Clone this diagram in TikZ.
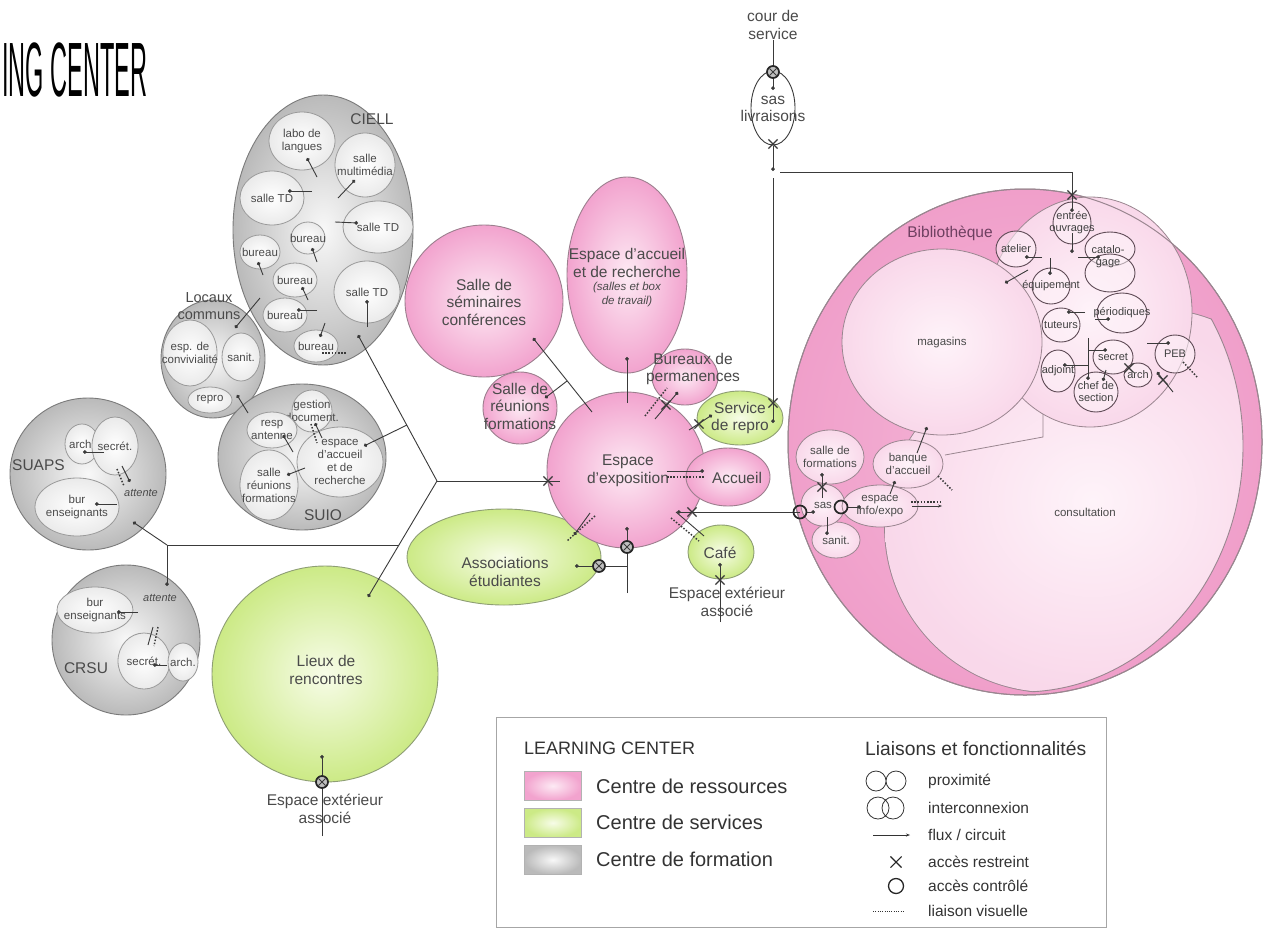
\documentclass[tikz,border=0pt]{standalone}
\usepackage{fontspec}
\setmainfont{Liberation Sans}
\usetikzlibrary{shapes.geometric,shapes.misc,arrows.meta}
\definecolor{pinkout}{HTML}{F2A3CE}
\definecolor{pinkin}{HTML}{FDEAF4}
\definecolor{pinkline}{HTML}{9C7F8E}
\definecolor{bibout}{HTML}{F09FCA}
\definecolor{bibin}{HTML}{FEF3F9}
\definecolor{bibmid}{HTML}{F9D8EA}
\definecolor{bibline}{HTML}{9A8690}
\definecolor{offline}{HTML}{5E4A55}
\definecolor{greenout}{HTML}{CCEA86}
\definecolor{greenin}{HTML}{F7FCE8}
\definecolor{greenline}{HTML}{8E9E74}
\definecolor{grayout}{HTML}{BABABA}
\definecolor{grayin}{HTML}{F8F8F8}
\definecolor{grayline}{HTML}{7A7A7A}
\definecolor{subfill}{HTML}{EAEAEA}
\definecolor{subline}{HTML}{9A9A9A}
\definecolor{txt}{HTML}{4A4A4A}
\definecolor{lnk}{HTML}{3A3A3A}
\definecolor{bibtxt}{HTML}{6E3F60}
\tikzset{
  bub/.style={ellipse, inner sep=0pt, line width=0.9pt},
  pinkb/.style={bub, draw=pinkline, shading=radial, inner color=pinkin, outer color=pinkout},
  greenb/.style={bub, draw=greenline, shading=radial, inner color=greenin, outer color=greenout},
  grayb/.style={bub, draw=grayline, shading=radial, inner color=grayin, outer color=grayout},
  subb/.style={bub, draw=subline, line width=0.8pt, shading=radial, inner color=white, outer color=subfill},
  roomb/.style={bub, draw=bibline, line width=0.8pt, shading=radial, inner color=bibin, outer color=bibmid},
  offb/.style={bub, draw=offline, line width=0.9pt, fill=bibin, fill opacity=0.55},
  whiteb/.style={bub, draw=lnk, line width=0.9pt, fill=white},
  tbig/.style={font=\fontsize{15.5}{17.5}\selectfont, text=txt, align=center, inner sep=0pt},
  tmid/.style={font=\fontsize{11.5}{13}\selectfont, text=txt, align=center, inner sep=0pt},
  toff/.style={font=\fontsize{11}{12}\selectfont, text=black!75, align=center, inner sep=0pt},
  tit/.style={font=\fontsize{11}{12.5}\selectfont\itshape, text=txt, align=center, inner sep=0pt},
  tleg/.style={font=\fontsize{15.5}{17}\selectfont, text=black!80, anchor=west, inner sep=0pt},
  tlegb/.style={font=\fontsize{20}{22}\selectfont, text=black!80, anchor=west, inner sep=0pt},
  fluxl/.style={draw=lnk, line width=0.9pt, -{Circle[length=3.6pt]}},
  lnkl/.style={draw=lnk, line width=0.9pt},
  visl/.style={draw=lnk, line width=1.5pt, dash pattern=on 1.5pt off 1.7pt},
  xmk/.style={cross out, draw=lnk, line width=1.2pt, minimum size=8pt, inner sep=0pt},
  omk/.style={circle, draw=black!85, line width=1.7pt, minimum size=13pt, inner sep=0pt},
  oxmk/.style={circle, draw=black!85, line width=1.7pt, fill=black!25, minimum size=12pt, inner sep=0pt},
  swatch/.style={draw=gray!60, line width=0.6pt, minimum width=57, minimum height=29, anchor=north west, inner sep=0pt}
}
\newcommand\bub[7]{\node[#1,minimum width=#4,minimum height=#5] (#2) at #3 {};\node[#6] (#2t) at (#2) {#7};}
\newcommand\mkX[1]{\node[xmk] at #1 {};}
\newcommand\mkO[1]{\node[omk] at #1 {};}
\newcommand\mkOX[1]{\node[oxmk] at #1 {};\node[xmk, minimum size=6pt, line width=1pt] at #1 {};}
\begin{document}
\begin{tikzpicture}[x=1pt,y=-1pt]
\useasboundingbox (0,0) rectangle (1273,929);
\fill[white] (0,0) rectangle (1273,929);
% title
\node[anchor=base west, inner sep=0pt] (title) at (2,96) {\scalebox{0.305}[1]{\fontsize{77}{77}\selectfont ING CENTER}};

% ---------- SUAPS ----------
\node[grayb, minimum width=156, minimum height=152] (suaps) at (88,474) {};
\bub{subb}{suarch}{(82,444)}{34}{40}{tmid}{arch.}
\bub{subb}{suasec}{(115,446)}{46}{58}{tmid}{secrét.}
\bub{subb}{suabur}{(77,507)}{84}{58}{tmid}{bur\\enseignants}
\node[tbig, anchor=west] (suapst) at (12,465) {SUAPS};
\node[tit] (suaatt) at (141,493) {attente};
% ---------- CRSU ----------
\node[grayb, minimum width=148, minimum height=150] (crsu) at (126,640) {};
\bub{subb}{crbur}{(95,610)}{76}{46}{tmid}{bur\\enseignants}
\bub{subb}{crsec}{(144,661)}{52}{56}{tmid}{secrét.}
\bub{subb}{crarch}{(183,662)}{30}{38}{tmid}{arch.}
\node[tbig] (crsut) at (86,668) {CRSU};
\node[tit] (cratt) at (160,598) {attente};
% ---------- CIELL ----------
\node[grayb, minimum width=180, minimum height=270] (ciell) at (323,230) {};
\node[tbig] (ciellt) at (372,119) {CIELL};
\bub{subb}{labo}{(302,141)}{66}{58}{tmid}{labo de\\langues}
\bub{subb}{multi}{(365,165)}{60}{64}{tmid}{salle\\multimédia}
\bub{subb}{tdA}{(272,198)}{64}{54}{tmid}{salle TD}
\bub{subb}{tdB}{(378,227)}{70}{52}{tmid}{salle TD}
\bub{subb}{burA}{(308,238)}{34}{32}{tmid}{bureau}
\bub{subb}{burB}{(260,252)}{40}{34}{tmid}{bureau}
\bub{subb}{burC}{(295,280)}{44}{34}{tmid}{bureau}
\bub{subb}{burD}{(285,315)}{44}{34}{tmid}{bureau}
\bub{subb}{burE}{(316,346)}{44}{32}{tmid}{bureau}
\bub{subb}{tdC}{(367,292)}{66}{62}{tmid}{salle TD}
% ---------- Locaux communs ----------
\node[grayb, minimum width=104, minimum height=118] (loc) at (213,359) {};
\node[font=\fontsize{14.5}{16.5}\selectfont, text=txt, align=center, inner sep=0pt] (loct) at (209,306) {Locaux\\communs};
\bub{subb}{conv}{(190,353)}{54}{66}{tmid}{esp. de\\convivialité}
\bub{subb}{lsan}{(241,357)}{38}{48}{tmid}{sanit.}
\bub{subb}{lrep}{(210,400)}{44}{26}{tmid}{repro}
% ---------- SUIO ----------
\node[grayb, minimum width=168, minimum height=146] (suio) at (302,457) {};
\bub{subb}{sgest}{(312,411)}{40}{42}{tmid}{gestion\\document.}
\bub{subb}{sresp}{(272,430)}{50}{36}{tmid}{resp\\antenne}
\bub{subb}{ssal}{(269,485)}{58}{70}{tmid}{salle\\réunions\\formations}
\bub{subb}{sesp}{(340,462)}{86}{70}{tmid}{espace\\d’accueil\\et de\\recherche}
\node[tbig] (suiot) at (323,515) {SUIO};

% ---------- pink / green ----------
\node[pinkb, minimum width=158, minimum height=152] (sem) at (484,301) {};
\node[tbig] (semt) at (484,302) {Salle de\\séminaires\\conférences};
\node[pinkb, minimum width=120, minimum height=196] (eacc) at (627,275) {};
\node[tbig] (eacct) at (627,263) {Espace d’accueil\\et de recherche};
\node[tit, font=\fontsize{11.5}{14}\selectfont\itshape] (eacci) at (627,295) {(salles et box\\de travail)};
\node[pinkb, minimum width=74, minimum height=72] (reu) at (520,408) {};
\node[tbig] (reut) at (520,406) {Salle de\\réunions\\formations};
\node[pinkb, minimum width=66, minimum height=56] (bper) at (685,377) {};
\node[tbig] (bpert) at (693,369) {Bureaux de\\permanences};
\node[greenb, minimum width=86, minimum height=54] (srep) at (740,418) {};
\node[tbig] (srept) at (740,418) {Service\\de repro};
\node[greenb, minimum width=194, minimum height=96] (asso) at (504,557) {};
\node[tbig] (assot) at (505,572) {Associations\\étudiantes};
\node[pinkb, minimum width=158, minimum height=156] (expo) at (626,470) {};
\node[tbig] (expot) at (628,471) {Espace\\d’exposition};
\node[pinkb, minimum width=84, minimum height=58] (accu) at (728,477) {};
\node[tbig] (accut) at (737,478) {Accueil};
\node[greenb, minimum width=66, minimum height=54] (cafe) at (721,552) {};
\node[tbig] (cafet) at (720,553) {Café};
\node[greenb, minimum width=226, minimum height=216] (lieux) at (325,674) {};
\node[tbig] (lieuxt) at (326,670) {Lieux de\\rencontres};
\node[tbig] (ext1) at (727,602) {Espace extérieur\\associé};
\node[tbig] (ext2) at (325,809) {Espace extérieur\\associé};

% ---------- top ----------
\node[tbig] (cour) at (773,25) {cour de\\service};
\node[whiteb, minimum width=44, minimum height=74] (sasl) at (773,108) {};
\node[tbig] (saslt) at (773,109) {sas\\livraisons};

% ---------- Bibliotheque ----------
\node[bub, draw=bibline, line width=1pt, shading=radial, inner color=bibout!75!white, outer color=bibout, minimum width=474, minimum height=506] (bib) at (1025,442) {};
\begin{scope}
\clip (1022,446) ellipse [x radius=221, y radius=246];
\draw[bibline, line width=1.8pt] (1050,527) circle [radius=165] (1160,450) circle [radius=140];
\shade[inner color=bibin, outer color=bibmid] (1050,527) circle [radius=165] (1160,450) circle [radius=140];
\end{scope}
\begin{scope}
\clip (1050,527) circle [radius=166] (1160,450) circle [radius=141];
\draw[bibline, line width=0.9pt] (1022,446) ellipse [x radius=221, y radius=246];
\end{scope}
\draw[bibline, line width=0.8pt] (945,455) -- (1043,437) -- (1043,412);
\node[bub, draw=bibline, line width=0.8pt, shading=radial, inner color=bibin, outer color=bibmid, minimum width=204, minimum height=230] (offc) at (1090,312) {};
\node[roomb, minimum width=200, minimum height=186] (mag) at (942,342) {};
\node[tmid] (magt) at (942,343) {magasins};
\node[bub, draw=bibline, line width=1pt, minimum width=474, minimum height=506] (bibo) at (1025,442) {};
\node[tbig, text=bibtxt] (bibt) at (950,233) {Bibliothèque};
\node[tmid] (cons) at (1085,512) {consultation};
% offices
\bub{offb}{entr}{(1072,223)}{38}{42}{toff}{entrée\\ouvrages}
\bub{offb}{atel}{(1016,249)}{40}{36}{toff}{atelier}
\node[offb, minimum width=50, minimum height=34] (catA) at (1110,249) {};
\node[offb, minimum width=50, minimum height=38] (catB) at (1110,273) {};
\node[toff] (catt) at (1108,257) {catalo-\\gage};
\bub{offb}{equi}{(1051,286)}{38}{36}{toff}{équipement}
\bub{offb}{tut}{(1061,325)}{38}{34}{toff}{tuteurs}
\bub{offb}{peri}{(1122,313)}{50}{40}{toff}{périodiques}
\bub{offb}{secb}{(1113,357)}{40}{34}{toff}{secret}
\bub{offb}{adj}{(1058,371)}{34}{42}{toff}{adjoint}
\bub{offb}{chef}{(1096,392)}{44}{40}{toff}{chef de\\section}
\bub{offb}{barch}{(1138,375)}{28}{24}{toff}{arch}
\bub{offb}{peb}{(1175,354)}{40}{38}{toff}{PEB}
% left rooms
\bub{roomb}{sfor}{(830,457)}{68}{54}{tmid}{salle de\\formations}
\bub{roomb}{sanb}{(836,540)}{48}{36}{tmid}{sanit.}
\bub{roomb}{sasb}{(823,505)}{44}{42}{tmid}{sas}
\bub{roomb}{info}{(880,506)}{76}{42}{tmid}{espace\\info/expo}
\bub{roomb}{banq}{(908,464)}{70}{48}{tmid}{banque\\d’accueil}

% ---------- connectors ----------
\coordinate (hub) at (437,481);
\coordinate (hubS) at (399,545);
\coordinate (sj) at (167,545);
\coordinate (sb) at (407,425);
\draw[lnkl] (hubS) -- (sj);
\draw[fluxl] (sj) -- (133,522);
\draw[fluxl] (sj) -- (167,586);
\draw[fluxl] (hub) -- (358,335);
\draw[fluxl] (sb) -- (364,446);
\draw[fluxl] (hub) -- (368,597);
\draw[lnkl] (hub) -- (560,481);
\draw[fluxl] (260,298) -- (235,328);
\draw[fluxl] (248,413) -- (237,395);
% SUAPS / CRSU internal
\draw[fluxl] (104,452) -- (83,452);
\draw[fluxl] (117,504) -- (95,504);
\draw[fluxl] (122,466) -- (130,482);
\draw[visl] (117,469) -- (124,486);
\draw[fluxl] (138,612) -- (117,612);
\draw[fluxl] (167,665) -- (153,665);
\draw[lnkl] (153,627) -- (148,645);
\draw[visl] (158,627) -- (154,646);
% CIELL internal
\draw[fluxl] (317,177) -- (307,158);
\draw[fluxl] (312,191) -- (288,191);
\draw[fluxl] (338,198) -- (355,180);
\draw[fluxl] (335,222) -- (358,223);
\draw[fluxl] (317,262) -- (312,248);
\draw[fluxl] (263,275) -- (258,262);
\draw[fluxl] (308,300) -- (302,287);
\draw[fluxl] (317,310) -- (297,310);
\draw[fluxl] (325,323) -- (320,337);
\draw[visl] (322,353) -- (347,353);
\draw[fluxl] (367,327) -- (367,300);
% SUIO internal
\draw[fluxl] (293,452) -- (283,435);
\draw[fluxl] (305,468) -- (287,475);
\draw[fluxl] (322,438) -- (315,423);
\draw[visl] (311,424) -- (317,443);
% around Espace d'exposition
\draw[fluxl] (592,412) -- (533,338);
\draw[fluxl] (567,381) -- (545,398);
\draw[fluxl] (627,403) -- (627,357);
\draw[visl] (645,416) -- (667,388);
\draw[fluxl] (655,419) -- (678,392);
\draw[fluxl] (689,430) -- (712,415);
\draw[fluxl] (667,471) -- (704,471);
\draw[visl] (667,477) -- (704,477);
\draw[fluxl] (800,512) -- (677,512);
\draw[lnkl] (676,512) -- (704,536);
\draw[visl] (671,518) -- (699,541);
\draw[fluxl] (590,513) -- (574,535);
\draw[visl] (595,516) -- (567,541);
\draw[fluxl] (627,593) -- (627,527);
\draw[fluxl] (627,566) -- (575,566);
\draw[fluxl] (720,622) -- (720,563);
\draw[fluxl] (322,836) -- (322,755);
% top
\draw[lnkl] (cour.south) -- (773,72);
\draw[fluxl] (773,78) -- (773,90);
\draw[fluxl] (773,146) -- (773,171);
\draw[fluxl] (773,178) -- (773,423);
\draw[fluxl] (780,172) -| (1072,212);
% bib offices
\draw[fluxl] (1072,233) -- (1072,253);
\draw[fluxl] (1078,257) -- (1100,257);
\draw[fluxl] (1042,257) -- (1025,257);
\draw[fluxl] (1050,258) -- (1050,275);
\draw[fluxl] (1028,270) -- (1005,283);
\draw[fluxl] (1085,312) -- (1067,312);
\draw[fluxl] (1095,319) -- (1110,319);
\draw[lnkl] (1088,338) -- (1088,373);
\draw[fluxl] (1088,365) -- (1063,365);
\draw[fluxl] (1088,350) -- (1107,350);
\draw[fluxl] (1088,370) -- (1088,380);
\draw[fluxl] (1106,370) -- (1103,381);
\draw[fluxl] (1173,392) -- (1157,372);
\draw[fluxl] (1147,343) -- (1170,343);
\draw[visl] (1183,362) -- (1197,377);
% bib left
\draw[fluxl] (806,512) -- (815,512);
\draw[fluxl] (847,507) -- (861,507);
\draw[fluxl] (822,498) -- (822,473);
\draw[fluxl] (827,517) -- (827,535);
\draw[fluxl] (917,453) -- (927,427);
\draw[fluxl] (890,494) -- (895,481);
\draw[visl] (938,476) -- (952,490);
\draw[visl] (911,502) -- (942,502);
\draw[lnkl, -{Stealth[length=4pt]}] (912,506) -- (942,506);
% marks
\mkX{(548,481)}
\mkX{(666,405)}
\mkX{(699,424)}
\mkX{(773,403)}
\mkX{(692,512)}
\mkX{(720,580)}
\mkX{(773,144)}
\mkX{(1072,195)}
\mkX{(1129,368)}
\mkX{(1163,380)}
\mkX{(822,487)}
\mkOX{(627,547)}
\mkOX{(599,566)}
\mkOX{(322,782)}
\mkOX{(773,72)}
\mkO{(800,512)}
\mkO{(841,507)}

% ---------- legend ----------
\node[draw=gray!70, line width=1pt, minimum width=610, minimum height=210, anchor=north west, inner sep=0pt] (leg) at (496,717) {};
\node[tleg, font=\fontsize{18}{20}\selectfont] (legA) at (524,748) {LEARNING CENTER};
\node[swatch, shading=radial, inner color=pinkin, outer color=pinkout] (swp) at (524,771) {};
\node[swatch, shading=radial, inner color=greenin, outer color=greenout] (swg) at (524,808) {};
\node[swatch, shading=radial, inner color=grayin, outer color=grayout] (swy) at (524,845) {};
\node[tlegb] (legp) at (596,786) {Centre de ressources};
\node[tlegb] (legg) at (596,822) {Centre de services};
\node[tlegb] (legy) at (596,859) {Centre de formation};
\node[tleg, font=\fontsize{19.3}{21}\selectfont] (legB) at (865,748) {Liaisons et fonctionnalités};
\draw[black!80, line width=0.8pt] (876,781) circle [radius=10] (896,781) circle [radius=10];
\draw[black!80, line width=0.8pt] (878,808) circle [radius=11] (893,808) circle [radius=11];
\draw[black!80, line width=0.9pt, -{Stealth[length=4pt]}] (873,835) -- (910,835);
\node[cross out, draw=black!85, line width=1.1pt, minimum size=10pt, inner sep=0pt] (legx) at (896,862) {};
\node[circle, draw=black!85, line width=1.3pt, minimum size=15pt, inner sep=0pt] (lego) at (896,886) {};
\draw[black!80, line width=1pt, dash pattern=on 1pt off 1.3pt] (873,911) -- (904,911);
\node[tleg] (l1) at (928,781) {proximité};
\node[tleg] (l2) at (928,808) {interconnexion};
\node[tleg] (l3) at (928,835) {flux / circuit};
\node[tleg] (l4) at (928,862) {accès restreint};
\node[tleg] (l5) at (928,886) {accès contrôlé};
\node[tleg] (l6) at (928,911) {liaison visuelle};
\end{tikzpicture}
\end{document}
